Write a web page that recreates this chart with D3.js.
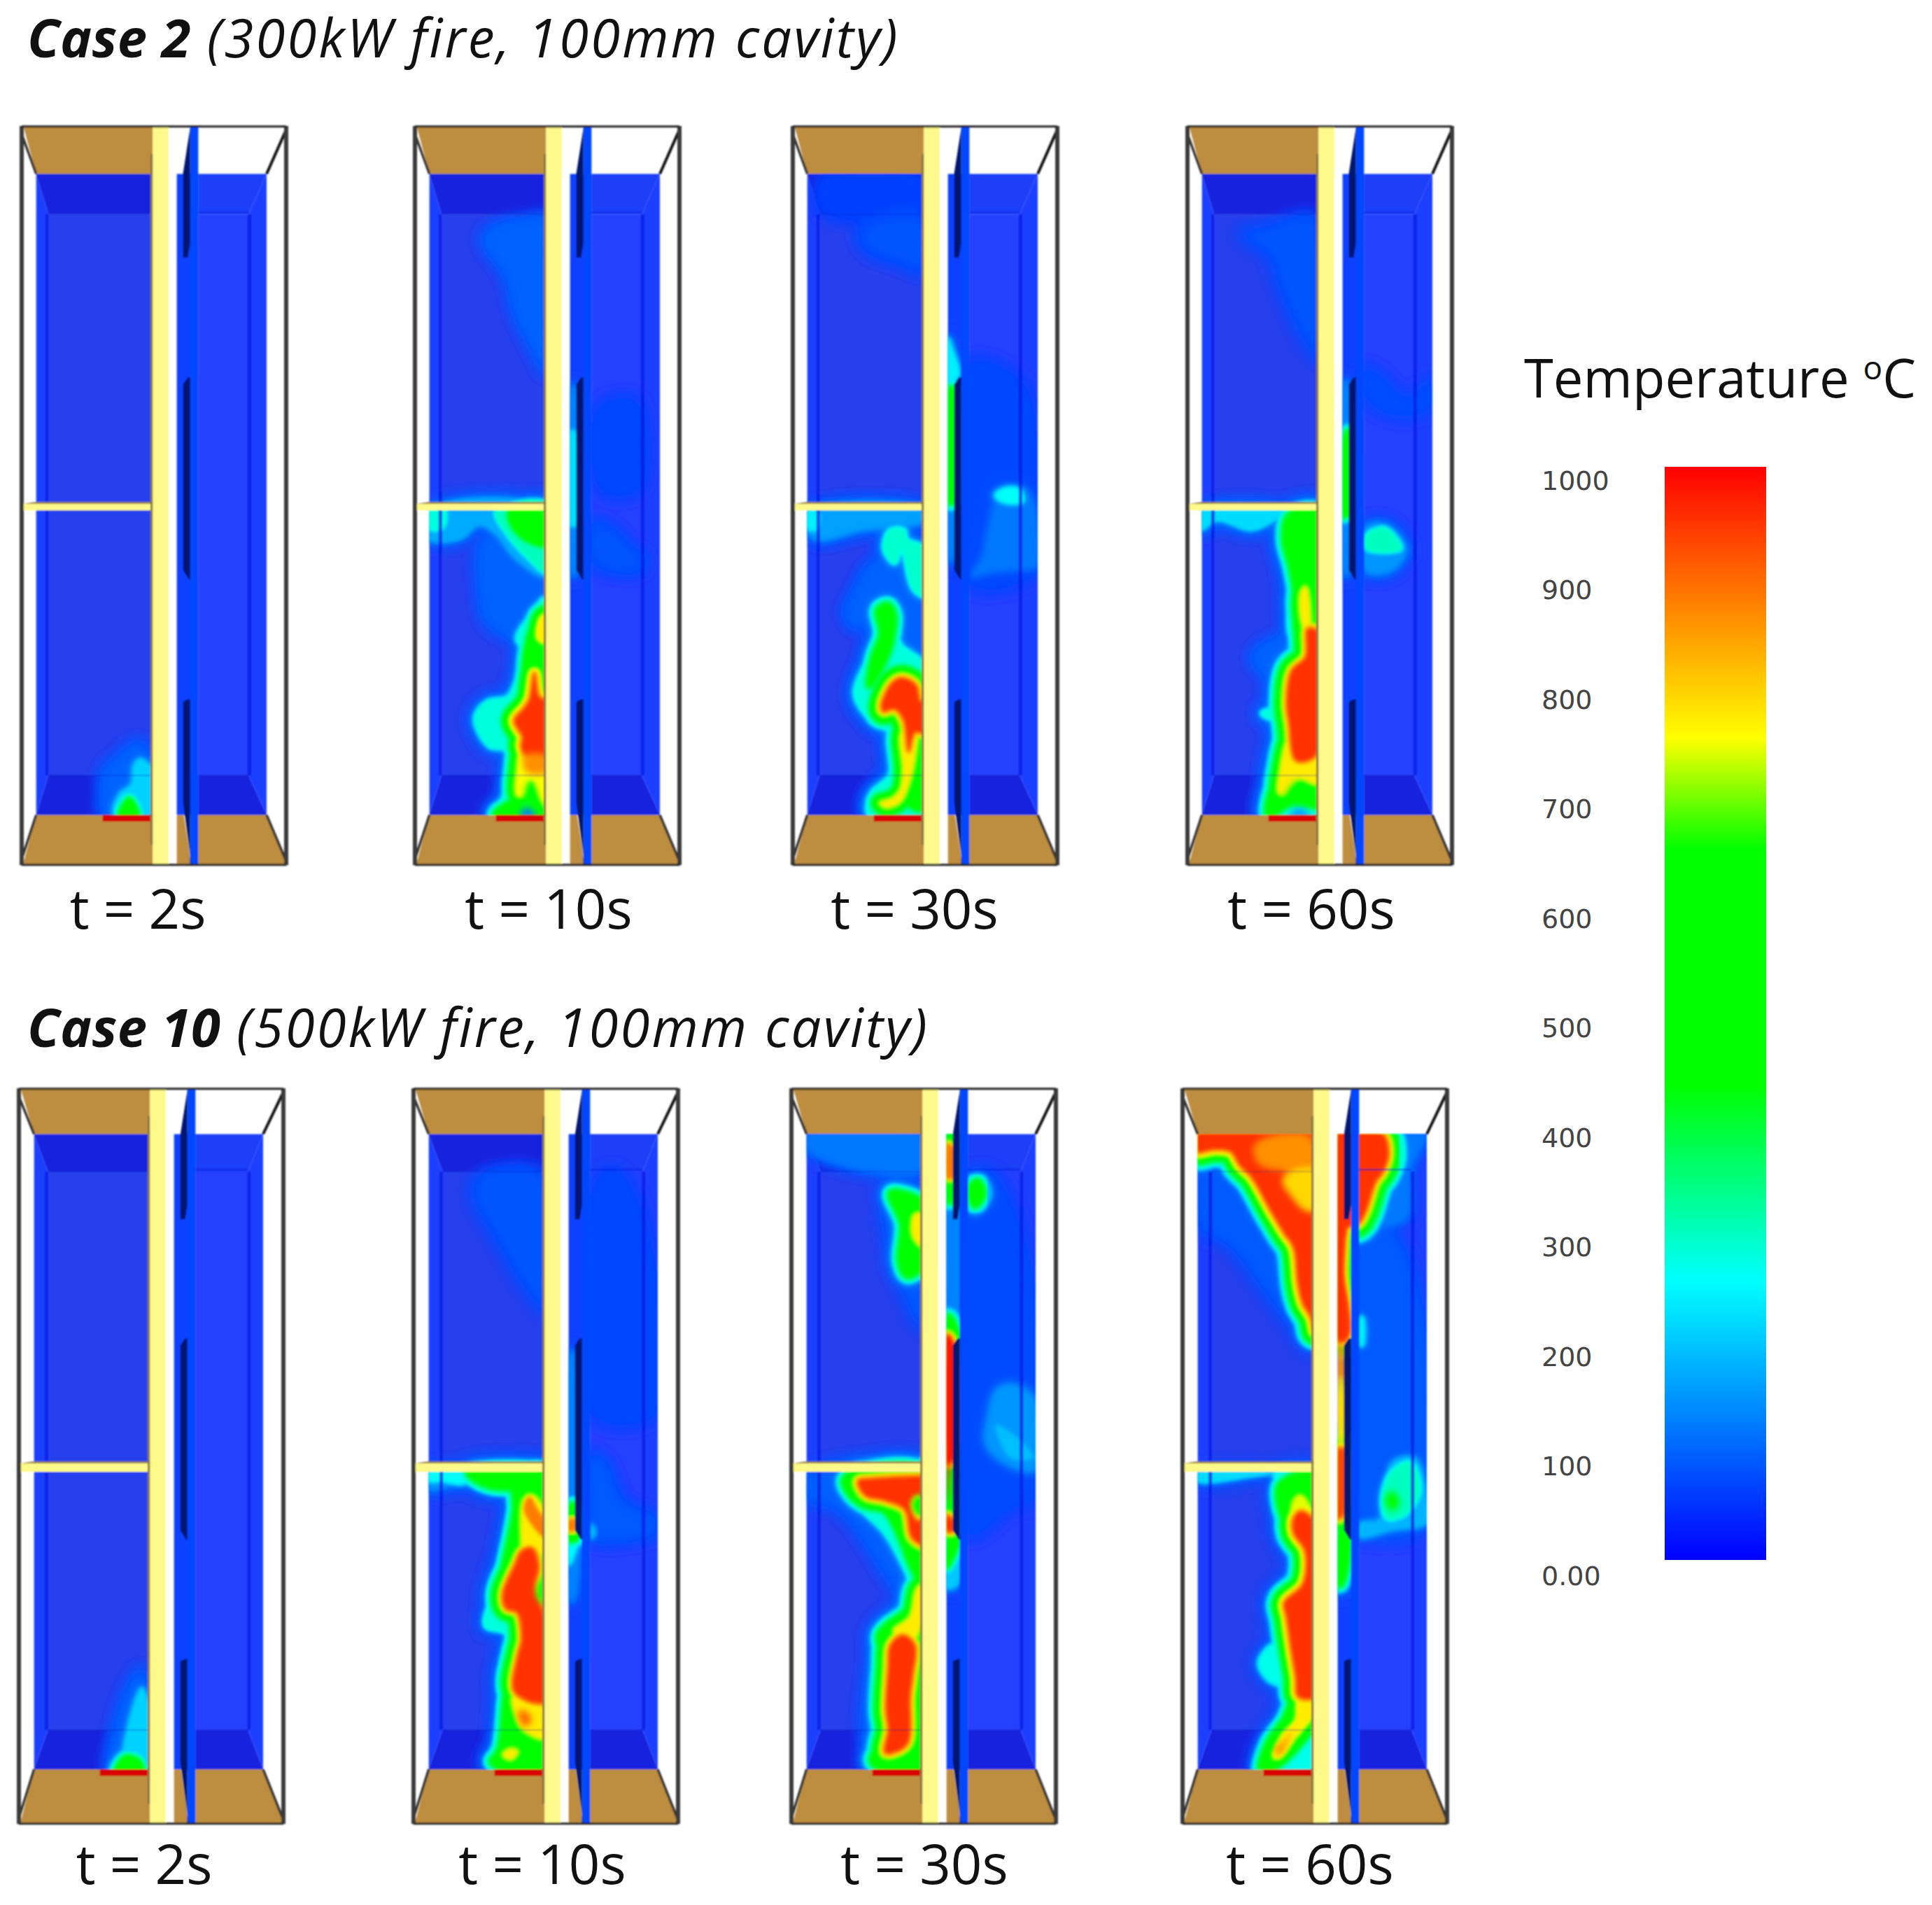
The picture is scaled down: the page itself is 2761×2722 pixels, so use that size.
<!DOCTYPE html>
<html>
<head>
<meta charset="utf-8">
<title>Temperature fields</title>
<script src="https://cdn.jsdelivr.net/npm/d3@7"></script>
<style>
  html, body { margin: 0; padding: 0; background: #fff; }
  svg { display: block; }
  text { font-family: "Open Sans", sans-serif; fill: #111; }
</style>
</head>
<body>
<div id="chart"></div>
<script>
const W = 2761;
const H = 2722;

// legend
const tempTicks = [0, 100, 200, 300, 400, 500, 600, 700, 800, 900, 1000];
const tempStops = [0, 255, 435, 650, 752, 1000];
const tempColors = ['#0000ff', '#00ffff', '#00ff00', '#00ff00', '#ffff00', '#ff0000'];

const timeLabels = ['t = 2s', 't = 10s', 't = 30s', 't = 60s'];
const caseNames = ['Case 2', 'Case 10'];
const caseNotes = [' (300kW fire, 100mm cavity)', ' (500kW fire, 100mm cavity)'];

// temperature regions: [temperature, outline]
// outline points are in panel units, u 0-1140 across and v 0-1568 down
const c2t2Field = [
  [100, [[340,1420],[350,1370],[420,1340],[490,1310],[540,1320],[570,1370],[570,1470],[350,1470]]],
  [210, [[395,1466],[420,1420],[470,1400],[480,1360],[510,1345],[570,1370],[570,1470]]],
  [500, [[425,1466],[445,1442],[465,1432],[490,1450],[500,1470]]]
];
const c2t2Cores = [];

const c2t10Field = [
  [100, [[290,240],[350,210],[500,195],[570,190],[570,530],[500,470],[430,400],[390,320]]],
  [100, [[290,880],[280,1000],[300,1050],[430,1090],[570,1030],[570,900],[400,880]]],
  [170, [[60,815],[60,880],[200,880],[280,850],[350,870],[430,920],[570,960],[570,815]]],
  [280, [[60,815],[60,855],[100,860],[130,850],[130,815]]],
  [300, [[350,820],[400,870],[480,915],[570,950],[570,815]]],
  [500, [[410,820],[420,850],[480,880],[570,890],[570,815]]],
  [280, [[260,1260],[310,1225],[400,1215],[430,1190],[470,1120],[440,1090],[500,1040],[560,1005],[570,1100],[570,1466],[340,1466],[380,1430],[400,1330],[320,1320]]],
  [560, [[480,1170],[490,1100],[530,1045],[570,1025],[570,1210],[510,1160]]],
  [560, [[350,1466],[400,1445],[470,1430],[570,1440],[570,1470]]],
  [770, [[530,1090],[545,1045],[570,1040],[570,1100]]],
  [750, [[440,1425],[440,1370],[460,1330],[570,1330],[570,1450],[530,1420],[500,1390],[470,1425]]],
  [950, [[430,1265],[470,1240],[495,1220],[515,1165],[535,1215],[570,1225],[570,1340],[480,1340],[460,1320],[465,1300]]],
  [85, [[765,840],[860,860],[940,900],[1000,920],[960,950],[870,950],[765,930]]],
  [70, [[780,600],[950,580],[1000,700],[960,780],[800,780]]],
  [130, [[668,550],[695,550],[695,960],[668,960]]],
  [220, [[668,650],[690,650],[695,850],[668,850]]]
];
const c2t10Cores = [
  [860, [[470,1340],[570,1340],[570,1375],[480,1375]]],
  [560, [[470,1440],[495,1392],[525,1425],[490,1432]]],
  [130, [[450,1470],[480,1450],[525,1470]]]
];

const c2t30Field = [
  [65, [[125,105],[555,105],[555,185],[125,185]]],
  [85, [[280,230],[350,200],[550,190],[570,310],[440,290],[330,270]]],
  [100, [[230,1040],[270,990],[350,930],[570,950],[570,1150],[460,1080],[450,1010],[350,1020],[290,1070]]],
  [160, [[60,820],[60,860],[110,880],[300,860],[570,840],[570,815]]],
  [240, [[60,820],[60,855],[105,860],[110,820]]],
  [290, [[420,860],[395,900],[440,930],[470,900],[520,985],[570,1000],[570,900],[490,880],[480,860]]],
  [280, [[270,1210],[330,1130],[370,1090],[360,1030],[400,1010],[450,1030],[460,1100],[570,1150],[570,1466],[330,1466],[340,1420],[420,1380],[420,1290],[350,1270]]],
  [550, [[370,1030],[410,1020],[435,1040],[430,1080],[410,1120],[360,1170],[330,1190],[350,1130],[385,1080]]],
  [560, [[540,1290],[570,1260],[570,1450],[500,1440],[530,1340]]],
  [770, [[375,1440],[430,1430],[465,1410],[475,1370],[470,1290],[530,1290],[530,1330],[500,1400],[460,1440],[400,1450]]],
  [950, [[385,1230],[430,1185],[470,1175],[530,1190],[550,1225],[570,1225],[570,1290],[525,1290],[500,1330],[480,1265],[440,1240],[390,1245]]],
  [70, [[760,500],[1000,550],[1050,800],[1050,950],[760,980]]],
  [120, [[760,960],[810,920],[840,850],[880,790],[1000,770],[1040,800],[1050,940],[1000,945],[860,950]]],
  [260, [[870,785],[920,770],[980,775],[990,800],[900,800]]],
  [130, [[668,550],[695,550],[695,930],[668,930]]],
  [240, [[668,450],[690,480],[715,530],[668,550]]],
  [520, [[668,560],[690,560],[690,800],[668,800]]]
];
const c2t30Cores = [];

const c2t60Field = [
  [85, [[220,230],[350,210],[550,190],[570,500],[480,440],[390,340],[350,280]]],
  [100, [[280,1130],[340,1100],[450,1090],[440,1150],[350,1170]]],
  [220, [[60,820],[60,860],[130,840],[280,860],[400,830],[420,818]]],
  [280, [[320,1250],[400,1230],[430,1160],[480,1120],[440,1080],[440,960],[410,880],[420,830],[570,820],[570,1466],[340,1466],[380,1340],[420,1280]]],
  [560, [[420,880],[440,830],[555,820],[570,960],[570,1060],[480,1080],[470,1000],[450,940]]],
  [560, [[350,1466],[380,1400],[420,1440],[480,1400],[570,1430],[570,1445],[450,1440]]],
  [770, [[395,1420],[400,1370],[450,1290],[570,1270],[570,1400],[480,1390],[430,1420]]],
  [770, [[490,1050],[490,990],[510,980],[530,1050],[520,1090]]],
  [950, [[430,1230],[450,1160],[510,1130],[520,1070],[570,1080],[570,1260],[550,1340],[470,1350],[440,1270]]],
  [80, [[760,510],[860,540],[950,580],[1050,530],[1050,600],[900,620],[760,580]]],
  [150, [[760,850],[860,845],[950,900],[880,950],[760,950]]],
  [300, [[770,870],[850,855],[920,900],[770,900]]],
  [130, [[668,540],[695,540],[695,960],[668,960]]],
  [520, [[668,680],[690,650],[695,820],[668,830]]]
];
const c2t60Cores = [
  [560, [[420,1432],[470,1395],[530,1425],[552,1440],[480,1432]]],
  [150, [[440,1470],[480,1452],[530,1470]]]
];

const c10t2Field = [
  [100, [[380,1450],[420,1350],[470,1280],[530,1240],[570,1300],[570,1466],[400,1466]]],
  [210, [[450,1440],[480,1340],[530,1280],[570,1330],[570,1440],[510,1420]]],
  [500, [[420,1462],[460,1430],[520,1440],[530,1466]]]
];
const c10t2Cores = [];

const c10t10Field = [
  [85, [[250,220],[290,180],[560,180],[570,480],[480,430],[370,340]]],
  [150, [[65,822],[65,860],[200,850],[330,860],[430,860],[440,822]]],
  [260, [[65,822],[65,840],[120,840],[220,845],[230,822]]],
  [280, [[310,1150],[340,1080],[420,870],[230,830],[230,822],[570,820],[570,1466],[335,1466],[365,1380],[395,1280],[440,1210],[400,1165]]],
  [560, [[365,1110],[385,1040],[440,900],[440,830],[570,820],[570,1460],[340,1440],[370,1420],[385,1380],[400,1300],[430,1240],[450,1180],[420,1130]]],
  [560, [[240,822],[570,822],[570,840],[330,850]]],
  [770, [[465,960],[475,880],[510,870],[570,910],[570,1000],[520,985],[470,980]]],
  [770, [[430,1300],[570,1280],[570,1390],[470,1370],[440,1340]]],
  [770, [[385,1425],[420,1412],[450,1418],[420,1435]]],
  [880, [[480,900],[500,875],[530,900],[570,930],[570,960],[510,930]]],
  [950, [[390,1080],[440,1020],[470,990],[510,985],[535,1020],[520,1070],[560,1130],[570,1310],[440,1290],[455,1210],[470,1180],[450,1120],[400,1110]]],
  [70, [[800,180],[900,180],[1050,400],[1050,700],[760,700]]],
  [90, [[760,780],[830,800],[900,880],[1050,920],[1050,950],[790,970],[760,960]]],
  [190, [[765,930],[785,950],[765,965]]],
  [130, [[668,560],[695,560],[695,1100],[668,1100]]],
  [250, [[668,970],[710,960],[670,1020]]],
  [520, [[668,895],[690,890],[690,965],[668,965]]],
  [880, [[668,925],[690,922],[690,945],[668,945]]]
];
const c10t10Cores = [
  [540, [[530,1075],[555,1050],[570,1060],[570,1100],[550,1100]]],
  [900, [[450,1335],[480,1330],[510,1350],[480,1365]]]
];

const c10t30Field = [
  [120, [[65,98],[570,98],[570,176],[300,176],[65,130]]],
  [90, [[400,230],[450,400],[570,520],[570,240]]],
  [95, [[70,822],[70,880],[200,900],[380,1020],[480,1120],[380,1150],[340,1466],[500,1466],[570,820]]],
  [280, [[215,830],[280,890],[400,950],[470,1010],[510,1060],[500,1110],[410,1140],[370,1170],[380,1230],[365,1340],[380,1420],[340,1466],[570,1466],[570,822]]],
  [560, [[430,225],[480,225],[570,250],[570,375],[500,400],[470,370],[480,290]]],
  [560, [[230,840],[260,825],[570,820],[570,1060],[510,1010],[480,970],[400,900],[280,880]]],
  [560, [[380,1170],[410,1150],[510,1110],[530,1060],[570,1040],[570,1466],[350,1440],[380,1400],[395,1330],[400,1230]]],
  [770, [[520,310],[530,270],[570,270],[570,340],[540,330]]],
  [770, [[440,1160],[510,1130],[540,1070],[570,1060],[570,1130],[520,1180]]],
  [950, [[290,840],[350,835],[560,830],[570,830],[570,865],[530,870],[510,890],[540,925],[570,925],[570,975],[520,960],[490,900],[400,880],[320,870]]],
  [950, [[410,1330],[420,1240],[430,1190],[480,1170],[530,1190],[520,1260],[510,1300],[500,1400],[440,1420],[405,1420],[420,1370]]],
  [75, [[765,180],[870,180],[1050,420],[1050,880],[950,900],[760,960]]],
  [150, [[840,700],[880,640],[950,630],[1050,660],[1050,820],[900,800],[830,760]]],
  [190, [[880,720],[980,750],[1040,790],[940,790]]],
  [560, [[770,215],[800,200],[825,225],[790,250]]],
  [130, [[668,98],[720,98],[720,490],[668,490]]],
  [200, [[668,1020],[710,960],[720,1060],[668,1070]]],
  [560, [[668,98],[700,98],[700,235],[668,240]]],
  [560, [[668,490],[680,490],[715,540],[668,560]]],
  [560, [[668,800],[695,800],[700,960],[668,960]]],
  [560, [[668,965],[715,960],[680,1010],[668,1020]]],
  [880, [[668,120],[700,130],[700,190],[668,190]]],
  [980, [[668,530],[695,550],[695,790],[668,800]]],
  [950, [[668,915],[695,925],[695,945],[668,945]]]
];
const c10t30Cores = [
  [550, [[520,890],[550,870],[570,880],[570,905],[545,910]]],
  [950, [[668,800],[685,800],[678,830],[668,890]]]
];

const c10t60Field = [
  [90, [[68,170],[230,200],[400,330],[560,560],[400,470],[200,340],[68,300]]],
  [90, [[760,300],[900,300],[1050,500],[1050,940],[760,950]]],
  [120, [[900,98],[1050,98],[990,170],[970,280],[800,300],[760,300]]],
  [220, [[68,822],[68,840],[300,830],[400,822]]],
  [180, [[760,930],[850,920],[900,800],[1000,790],[1050,880],[1050,930],[900,945],[760,960]]],
  [240, [[765,490],[775,490],[775,550],[765,550]]],
  [300, [[860,880],[900,820],[980,800],[1020,860],[960,910],[880,920]]],
  [270, [[330,1230],[370,1195],[420,1180],[410,1100],[420,1080],[490,1050],[480,990],[430,930],[410,850],[400,822],[570,820],[570,1466],[340,1466],[360,1410],[450,1340],[470,1300],[430,1280],[370,1265]]],
  [560, [[420,850],[560,825],[570,925],[530,910],[480,895],[450,930]]],
  [560, [[340,1460],[370,1400],[440,1350],[490,1300],[540,1310],[570,1290],[570,1350],[490,1410],[400,1450]]],
  [560, [[668,950],[690,940],[715,950],[680,1060],[668,1060]]],
  [740, [[470,920],[480,880],[510,870],[560,905],[570,925],[510,900]]],
  [770, [[395,1430],[430,1385],[490,1350],[500,1310],[545,1300],[570,1310],[560,1340],[480,1390],[420,1430]]],
  [950, [[440,1100],[520,1060],[530,990],[480,950],[480,920],[510,905],[570,930],[570,1300],[500,1300],[490,1260],[470,1200],[450,1130]]],
  [950, [[60,98],[570,98],[570,520],[555,490],[520,460],[500,420],[480,340],[440,310],[380,260],[300,190],[250,165],[210,135],[140,130],[60,135]]],
  [950, [[750,98],[860,98],[885,140],[860,180],[830,200],[790,260],[765,285],[750,290]]],
  [950, [[668,98],[730,98],[730,290],[668,290]]],
  [950, [[668,280],[700,280],[695,330],[690,400],[710,470],[715,520],[695,540],[668,540]]],
  [930, [[668,770],[695,770],[695,910],[668,920]]]
];
const c10t60Cores = [
  [860, [[310,122],[400,100],[540,100],[575,125],[575,175],[420,176],[325,160]]],
  [790, [[430,195],[480,176],[575,174],[575,262],[530,262],[475,235]]],
  [480, [[870,880],[900,860],[935,885],[900,905]]],
  [860, [[668,540],[690,550],[695,640],[668,640]]],
  [780, [[668,620],[695,620],[695,760],[668,760]]],
  [880, [[400,1415],[440,1395],[470,1375],[450,1400],[415,1425]]]
];

const case2Panels = [
  { field: c2t2Field, cores: c2t2Cores },
  { field: c2t10Field, cores: c2t10Cores },
  { field: c2t30Field, cores: c2t30Cores },
  { field: c2t60Field, cores: c2t60Cores }
];
const case10Panels = [
  { field: c10t2Field, cores: c10t2Cores },
  { field: c10t10Field, cores: c10t10Cores },
  { field: c10t30Field, cores: c10t30Cores },
  { field: c10t60Field, cores: c10t60Cores }
];

// page layout
const PANEL_W = 380;
const FRAME_TOP = 0;
const FRAME_BOT = 1572;
const rows = [
  { panels: case2Panels, lefts: [30, 592, 1132, 1696], top: 180, h: 1053,
    labelX: [197, 784, 1307, 1874], labelY: 1327, titleY: 82,
    wallTop: 102, backTop: 188, backBot: 1382, wallBot: 1466, outerL: 65, backL: 118, backR: 975, outerR: 1053, divTop: 800, divBot: 818 },
  { panels: case10Panels, lefts: [26, 590, 1130, 1689], top: 1555, h: 1048,
    labelX: [206, 775, 1321, 1872], labelY: 2692, titleY: 1496,
    wallTop: 98, backTop: 178, backBot: 1372, wallBot: 1456, outerL: 68, backL: 128, backR: 985, outerR: 1050, divTop: 798, divBot: 820 }
];

const TAN = '#bd8d40';
const YELLOW = '#fdf98a';
const ISO_LEVELS = [60, 90, 150, 210, 270, 340, 430, 660, 710, 770, 850, 950];
const PX_PER_DEGREE = 0.034;

const tempColor = d3.scaleLinear().domain(tempStops).range(tempColors);

const svg = d3.select('#chart').append('svg')
  .attr('width', W)
  .attr('height', H)
  .attr('viewBox', `0 0 ${W} ${H}`);

const defs = svg.append('defs');

function addBlur(id, dev) {
  defs.append('filter')
    .attr('id', id)
    .attr('x', '-30%').attr('y', '-30%')
    .attr('width', '160%').attr('height', '160%')
    .append('feGaussianBlur')
    .attr('stdDeviation', dev);
}
addBlur('softBlur', 10);
addBlur('midBlur', 5);
addBlur('sharpBlur', 2.4);
addBlur('sceneBlur', 0.9);

// which compartment a region belongs to, from its first point
function compartmentOf(d) {
  const u = d[1][0][0];
  return u < 640 ? 'l' : u < 745 ? 'c' : 'r';
}

function drawPanel(parent, row, panel, left, id) {
  const x = d3.scaleLinear().domain([0, 1140]).range([left, left + PANEL_W]);
  const y = d3.scaleLinear().domain([0, 1568]).range([row.top, row.top + row.h]);
  const poly = d3.line().x(d => x(d[0])).y(d => y(d[1])).curve(d3.curveLinearClosed);
  const blob = d3.line().x(d => x(d[0])).y(d => y(d[1])).curve(d3.curveCatmullRomClosed.alpha(0.5));

  const g = parent.append('g').attr('filter', 'url(#sceneBlur)');
  const shape = (pts, fill) => g.append('path').attr('d', poly(pts)).attr('fill', fill);

  const { wallTop: wt, backTop: bt, backBot: bb, wallBot: wb, outerL: ol, backL: bl, backR: br, outerR: or } = row;
  const ft = FRAME_TOP;
  const fb = FRAME_BOT;

  // room shell behind the temperature slices
  shape([[10, ft], [565, ft], [565, wt], [ol, wt]], TAN);
  shape([[ol, wb], [565, wb], [565, fb], [8, fb]], TAN);
  shape([[668, wb], [698, wb], [730, fb], [668, fb]], TAN);
  shape([[760, wb], [or, wb], [1140, fb], [760, fb]], TAN);

  shape([[ol, wt], [bl, bt], [bl, bb], [ol, wb]], '#1f40ff');
  shape([[ol, wt], [560, wt], [560, bt], [bl, bt]], '#1722dd');
  shape([[bl, bb], [560, bb], [560, wb], [ol, wb]], '#1722dd');
  shape([[bl, bt], [560, bt], [560, bb], [bl, bb]], '#2541ee');

  shape([[668, wt], [760, wt], [760, wb], [668, wb]], '#1040ff');
  shape([[760, bt], [br, bt], [br, bb], [760, bb]], '#2540ff');
  shape([[760, wt], [or, wt], [br, bt], [760, bt]], '#1f40f8');
  shape([[760, bb], [br, bb], [or, wb], [760, wb]], '#1522dd');
  shape([[br, bt], [or, wt], [or, wb], [br, bb]], '#1f40ff');

  // temperature slices, clipped to the compartments
  const clips = [
    { key: 'l', u0: ol, u1: 556 },
    { key: 'c', u0: 668, u1: 725 },
    { key: 'r', u0: 760, u1: or }
  ];
  clips.forEach(c => {
    const clipId = `clip-${id}-${c.key}`;
    defs.append('clipPath').attr('id', clipId)
      .append('rect')
      .attr('x', x(c.u0)).attr('y', y(wt))
      .attr('width', x(c.u1) - x(c.u0))
      .attr('height', y(wb) - y(wt));

    const clipped = g.append('g').attr('clip-path', `url(#${clipId})`);
    const regions = panel.field.filter(d => compartmentOf(d) === c.key);
    const levels = Array.from(new Set(ISO_LEVELS.concat(regions.map(d => d[0])))).sort(d3.ascending);

    // each region is the outline of its own temperature, the cooler
    // isotherms sit further out as a wider stroke of the same outline
    levels.forEach(level => {
      const active = regions.filter(d => d[0] >= level);
      if (!active.length) return;
      const layer = clipped.append('g')
        .attr('filter', level <= 100 ? 'url(#softBlur)' : level <= 160 ? 'url(#midBlur)' : 'url(#sharpBlur)');
      active.forEach(d => {
        layer.append('path')
          .attr('d', blob(d[1]))
          .attr('fill', tempColor(level))
          .attr('stroke', tempColor(level))
          .attr('stroke-width', 2 * (d[0] - level) * PX_PER_DEGREE)
          .attr('stroke-linejoin', 'round');
      });
    });

    const coreLayer = clipped.append('g').attr('filter', 'url(#midBlur)');
    panel.cores
      .filter(d => compartmentOf(d) === c.key)
      .forEach(d => {
        coreLayer.append('path').attr('d', blob(d[1])).attr('fill', tempColor(d[0]));
      });
  });

  // wall edges showing through the slices
  const edge = (pts, color, w, op) => g.append('path')
    .attr('d', d3.line().x(d => x(d[0])).y(d => y(d[1]))(pts))
    .attr('fill', 'none').attr('stroke', color)
    .attr('stroke-width', w).attr('stroke-opacity', op);
  edge([[bl - 6, bt], [bl - 6, bb]], '#0016e0', 5, 0.7);
  edge([[bl, bt], [556, bt]], '#0010b0', 2, 0.2);
  edge([[bl, bb], [556, bb]], '#0010b0', 2, 0.25);
  edge([[br + 4, bt], [br + 4, bb]], '#0016e0', 5, 0.7);
  edge([[760, bt - 4], [br, bt - 4]], '#0016e0', 2, 0.6);
  edge([[760, bb], [br, bb]], '#0010b0', 2, 0.25);

  // separating floor, facade board, cavity leaf, burner
  shape([[10, row.divTop + 4], [570, row.divTop + 4], [570, row.divBot], [10, row.divBot]], YELLOW);
  shape([[60, row.divTop], [570, row.divTop], [570, row.divTop + 4], [10, row.divTop + 4]], '#9a8448');
  shape([[555, 60], [566, 60], [566, 1530], [555, 1530]], '#8a7540');
  shape([[565, ft + 2], [632, ft + 2], [632, fb], [565, fb]], YELLOW);
  shape([[725, ft + 3], [760, ft + 3], [760, fb], [725, fb]], '#0046ff');
  shape([[725, 5], [695, 100], [695, 280], [715, 280], [725, 250]], '#001470');
  shape([[715, 535], [695, 550], [695, 945], [720, 965], [725, 965], [725, 535]], '#001470');
  shape([[695, 1225], [715, 1220], [725, 1220], [725, fb], [730, fb], [695, 1440]], '#001470');
  shape([[350, wb], [555, wb], [555, wb + 14], [350, wb + 14]], '#d80000');

  // bounding box and its corner lines
  edge([[5, 20], [ol, wt]], '#333', 3.5, 1);
  edge([[5, fb - 15], [ol, wb]], '#333', 3.5, 1);
  edge([[or, wt], [1135, 10]], '#111', 4, 1);
  edge([[or, wb], [1135, fb - 10]], '#333', 3.5, 1);
  edge([[3, ft], [3, fb + 1]], '#3a3a3a', 6, 1);
  edge([[1137, ft], [1137, fb + 1]], '#3a3a3a', 6, 1);
  edge([[3, ft + 1], [1137, ft + 1]], '#222', 3, 1);
  edge([[3, fb], [1137, fb]], '#222', 3, 1);
}

rows.forEach((row, r) => {
  const rowG = svg.append('g').attr('class', 'case');

  const title = rowG.append('text')
    .attr('x', 39)
    .attr('y', row.titleY);
  title.append('tspan')
    .attr('font-size', 76).attr('font-weight', 700).attr('font-style', 'italic')
    .attr('letter-spacing', 0.4)
    .text(caseNames[r]);
  title.append('tspan')
    .attr('font-size', 76).attr('font-style', 'italic').attr('letter-spacing', 3.1)
    .text(caseNotes[r]);

  row.panels.forEach((panel, i) => {
    drawPanel(rowG, row, panel, row.lefts[i], `${r}-${i}`);
    rowG.append('text')
      .attr('x', row.labelX[i])
      .attr('y', row.labelY)
      .attr('text-anchor', 'middle')
      .attr('font-size', 78)
      .text(timeLabels[i]);
  });
});

// colour bar
const barY = d3.scaleLinear().domain([0, 1000]).range([2229, 667]);

const grad = defs.append('linearGradient')
  .attr('id', 'tempGradient')
  .attr('x1', 0).attr('y1', 1)
  .attr('x2', 0).attr('y2', 0);
tempStops.forEach((t, i) => {
  grad.append('stop')
    .attr('offset', t / 1000)
    .attr('stop-color', tempColors[i]);
});

svg.append('rect')
  .attr('x', 2379)
  .attr('y', barY(1000))
  .attr('width', 145)
  .attr('height', barY(0) - barY(1000))
  .attr('fill', 'url(#tempGradient)');

const labelY = d3.scaleLinear().domain([0, 1000]).range([2252, 687]);
const legendAxis = d3.axisRight(labelY)
  .tickValues(tempTicks)
  .tickSize(0)
  .tickPadding(0)
  .tickFormat(d => d === 0 ? '0.00' : String(d));

const axisG = svg.append('g')
  .attr('transform', 'translate(2203,0)')
  .call(legendAxis);
axisG.select('.domain').remove();
axisG.selectAll('text')
  .style('font-family', '"DejaVu Sans", sans-serif')
  .style('fill', '#444')
  .attr('font-size', 38);

const legendTitle = svg.append('text')
  .attr('x', 2178)
  .attr('y', 568)
  .attr('font-size', 76);
legendTitle.append('tspan').text('Temperature ');
legendTitle.append('tspan').attr('font-size', 46).attr('dy', -26).text('o');
legendTitle.append('tspan').attr('dy', 26).text('C');
</script>
</body>
</html>
